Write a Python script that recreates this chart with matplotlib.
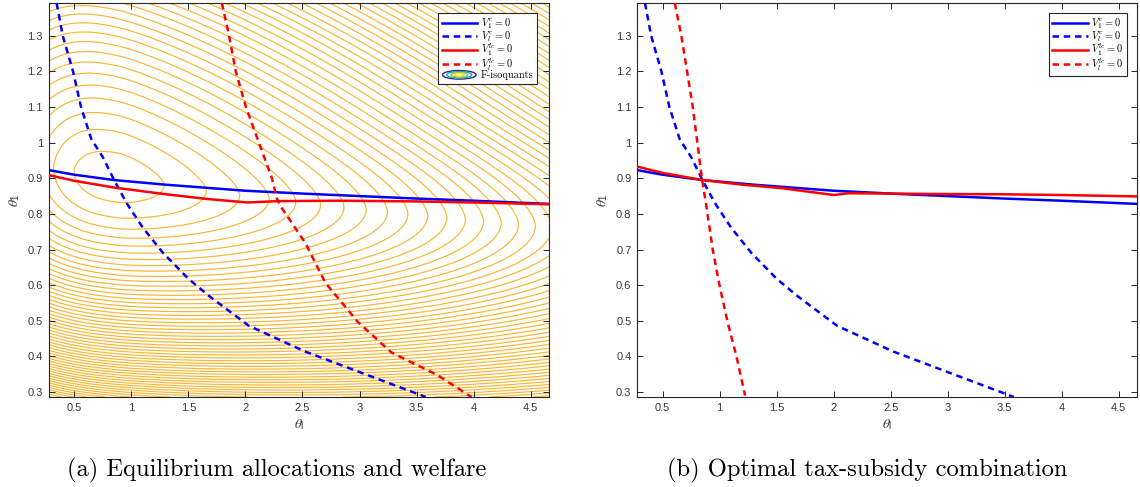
import numpy as np
import matplotlib
matplotlib.use('Agg')
import matplotlib.pyplot as plt
from matplotlib.font_manager import FontProperties
from matplotlib.legend_handler import HandlerBase
from matplotlib.patches import Ellipse
from matplotlib.lines import Line2D
from matplotlib.ticker import FuncFormatter

# ---------------- data ----------------
# V_1^c = 0 (solid blue, same in both panels)
v1c_thl = [0.276, 0.5, 0.85, 1.3, 2.0, 2.5, 3.0, 3.5, 4.0, 4.66]
v1c_th1 = [0.923, 0.910, 0.895, 0.882, 0.865, 0.857, 0.850, 0.843, 0.837, 0.828]

# V_l^c = 0 (dashed blue, same in both panels)
vlc_thl = [0.346, 0.40, 0.49, 0.56, 0.65, 0.75, 0.85, 0.96, 1.10, 1.28, 1.50, 1.68, 2.03, 2.52, 3.05, 3.58]
vlc_th1 = [1.392, 1.30, 1.20, 1.10, 1.01, 0.96, 0.895, 0.830, 0.762, 0.690, 0.618, 0.570, 0.486, 0.414, 0.350, 0.286]

# panel (a): V_1^lc = 0 (solid red)
a_v1lc_thl = [0.276, 0.5, 0.85, 1.28, 1.66, 2.02, 2.3, 2.83, 3.5, 4.0, 4.66]
a_v1lc_th1 = [0.909, 0.893, 0.874, 0.856, 0.842, 0.832, 0.836, 0.837, 0.835, 0.832, 0.827]

# panel (a): V_l^lc = 0 (dashed red)
a_vllc_thl = [1.794, 1.857, 1.916, 2.002, 2.118, 2.233, 2.277, 2.32, 2.524, 2.70, 2.99, 3.28, 3.685, 3.98]
a_vllc_th1 = [1.392, 1.30, 1.20, 1.103, 1.00, 0.90, 0.842, 0.816, 0.719, 0.607, 0.495, 0.411, 0.347, 0.286]

# panel (b): V_1^lc = 0 (solid red)
b_v1lc_thl = [0.276, 0.5, 0.85, 1.2, 1.548, 2.003, 2.13, 2.846, 3.495, 4.0, 4.66]
b_v1lc_th1 = [0.933, 0.915, 0.895, 0.882, 0.872, 0.853, 0.858, 0.856, 0.855, 0.853, 0.849]

# panel (b): V_l^lc = 0 (dashed red)
b_vllc_thl = [0.607, 0.665, 0.715, 0.765, 0.805, 0.845, 0.885, 0.94, 0.995, 1.072, 1.148, 1.224]
b_vllc_th1 = [1.392, 1.30, 1.20, 1.10, 1.00, 0.90, 0.82, 0.70, 0.606, 0.494, 0.40, 0.29]

# F-isoquant field parameters (peak location, shape)
F_peak = (0.89, 0.90)
F_shear_low = 0.03
F_shear_high = 0.07
F_right = (2.38, 1.5)
F_left = (6.9, 2.6)
F_up = (42.0, 1.6)
F_down = (130.0, 2.0)
F_first_level = 0.6
F_n_levels = 110

xlim = (0.276, 4.66)
ylim = (0.286, 1.392)
xticks = [0.5, 1, 1.5, 2, 2.5, 3, 3.5, 4, 4.5]
yticks = [0.3, 0.4, 0.5, 0.6, 0.7, 0.8, 0.9, 1.0, 1.1, 1.2, 1.3]

legend_labels = [r'$V_1^c = 0$', r'$V_l^c = 0$', r'$V_1^{lc} = 0$', r'$V_l^{lc} = 0$']
iso_label = 'F-isoquants'
captions = ['(a) Equilibrium allocations and welfare', '(b) Optimal tax-subsidy combination']

# ---------------- figure ----------------
W, H = 1140, 487
fig = plt.figure(figsize=(W / 100, H / 100), dpi=100)
fig.patch.set_facecolor('white')


def rect(x0, x1, y0, y1):
    return [x0 / W, 1 - y1 / H, (x1 - x0) / W, (y1 - y0) / H]


axL = fig.add_axes(rect(48.6, 549, 3, 397))
axR = fig.add_axes(rect(637, 1137, 3, 397))

BLUE = '#0000ff'
RED = '#ff0000'
ORANGE = '#f7b733'
AXC = '#262626'
LW = 1.8
DASH = (2.6, 1.9)
tickfont = 'Liberation Sans'

# contour field in panel (a)
uu = np.linspace(xlim[0], xlim[1], 900)
vv = np.linspace(ylim[0], ylim[1], 800)
U, Vg = np.meshgrid(uu, vv)
p = U - F_peak[0]
shear = F_shear_low + (F_shear_high - F_shear_low) / (1 + np.exp(-(Vg - F_peak[1]) / 0.08))
q = (Vg - F_peak[1]) + shear * p
Lh = np.where(p >= 0, F_right[0] * np.abs(p) ** F_right[1], F_left[0] * np.abs(p) ** F_left[1])
Lv = np.where(q >= 0, F_up[0] * np.abs(q) ** F_up[1], F_down[0] * np.abs(q) ** F_down[1])
Fz = -(Lh + Lv)
levels = np.sort(-(F_first_level + np.arange(F_n_levels)))
axL.contour(U, Vg, Fz, levels=levels, colors=ORANGE, linewidths=0.85,
            linestyles='solid', zorder=1)


def draw_lines(ax, red_solid, red_dash):
    ax.plot(v1c_thl, v1c_th1, color=BLUE, lw=LW, zorder=3)
    ax.plot(vlc_thl, vlc_th1, color=BLUE, lw=LW, dashes=DASH, zorder=3)
    ax.plot(red_solid[0], red_solid[1], color=RED, lw=LW, zorder=3)
    ax.plot(red_dash[0], red_dash[1], color=RED, lw=LW, dashes=DASH, zorder=3)


draw_lines(axL, (a_v1lc_thl, a_v1lc_th1), (a_vllc_thl, a_vllc_th1))
draw_lines(axR, (b_v1lc_thl, b_v1lc_th1), (b_vllc_thl, b_vllc_th1))

fmt = FuncFormatter(lambda x, pos: ('%g' % round(x, 3)))
for ax in (axL, axR):
    ax.set_xlim(*xlim)
    ax.set_ylim(*ylim)
    ax.set_xticks(xticks)
    ax.set_yticks(yticks)
    ax.xaxis.set_major_formatter(fmt)
    ax.yaxis.set_major_formatter(fmt)
    ax.tick_params(direction='in', length=4.5, width=0.7, top=True, right=True,
                   colors=AXC, labelcolor='#3a3a3a', labelsize=8, pad=4)
    for lab in ax.get_xticklabels() + ax.get_yticklabels():
        lab.set_fontfamily(tickfont)
    for sp in ax.spines.values():
        sp.set_color(AXC)
        sp.set_linewidth(0.8)
    ax.set_xlabel(r'$\theta_\mathregular{l}$', fontsize=10, color='#3a3a3a', labelpad=3,
                  math_fontfamily='stix', fontfamily=tickfont)
    ax.set_ylabel(r'$\theta_\mathregular{1}$', fontsize=10, color='#3a3a3a', labelpad=4,
                  math_fontfamily='stix', fontfamily=tickfont)


class IsoProxy:
    pass


class IsoHandler(HandlerBase):
    def create_artists(self, legend, orig_handle, xdescent, ydescent, width, height, fontsize, trans):
        cx = width / 2 - xdescent
        cy = height / 2 - ydescent
        arts = []
        for f, c in zip([1.0, 0.74, 0.5, 0.28], ['#352a87', '#12b4c4', '#a9c24a', '#f5e81c']):
            e = Ellipse((cx, cy), width * 0.95 * f, height * 1.3 * f, fill=False,
                        edgecolor=c, lw=1.0, transform=trans)
            arts.append(e)
        return arts


def line_handles():
    return [Line2D([], [], color=BLUE, lw=LW),
            Line2D([], [], color=BLUE, lw=LW, dashes=DASH),
            Line2D([], [], color=RED, lw=LW),
            Line2D([], [], color=RED, lw=LW, dashes=DASH)]


lprop = FontProperties(family='cmr10', size=7.5, math_fontfamily='cm')
common = dict(loc='upper right', prop=lprop, handlelength=3.4, labelspacing=-0.2,
              borderpad=0.35, handletextpad=0.35, borderaxespad=0, fancybox=False,
              framealpha=1, edgecolor=AXC, handleheight=0.6)
legL = axL.legend(line_handles() + [IsoProxy()], legend_labels + [iso_label],
                  bbox_to_anchor=(0.976, 0.975), handler_map={IsoProxy: IsoHandler()}, **common)
legL.get_frame().set_linewidth(0.8)
legL.set_zorder(5)
legR = axR.legend(line_handles(), legend_labels, bbox_to_anchor=(0.98, 0.975), **common)
legR.get_frame().set_linewidth(0.8)

fig.text(277 / W, 1 - 470 / H, captions[0], family='cmr10', size=17.7, ha='center', va='center')
fig.text(867 / W, 1 - 470 / H, captions[1], family='cmr10', size=17.7, ha='center', va='center')

fig.savefig('out.png', dpi=100, facecolor='white')
